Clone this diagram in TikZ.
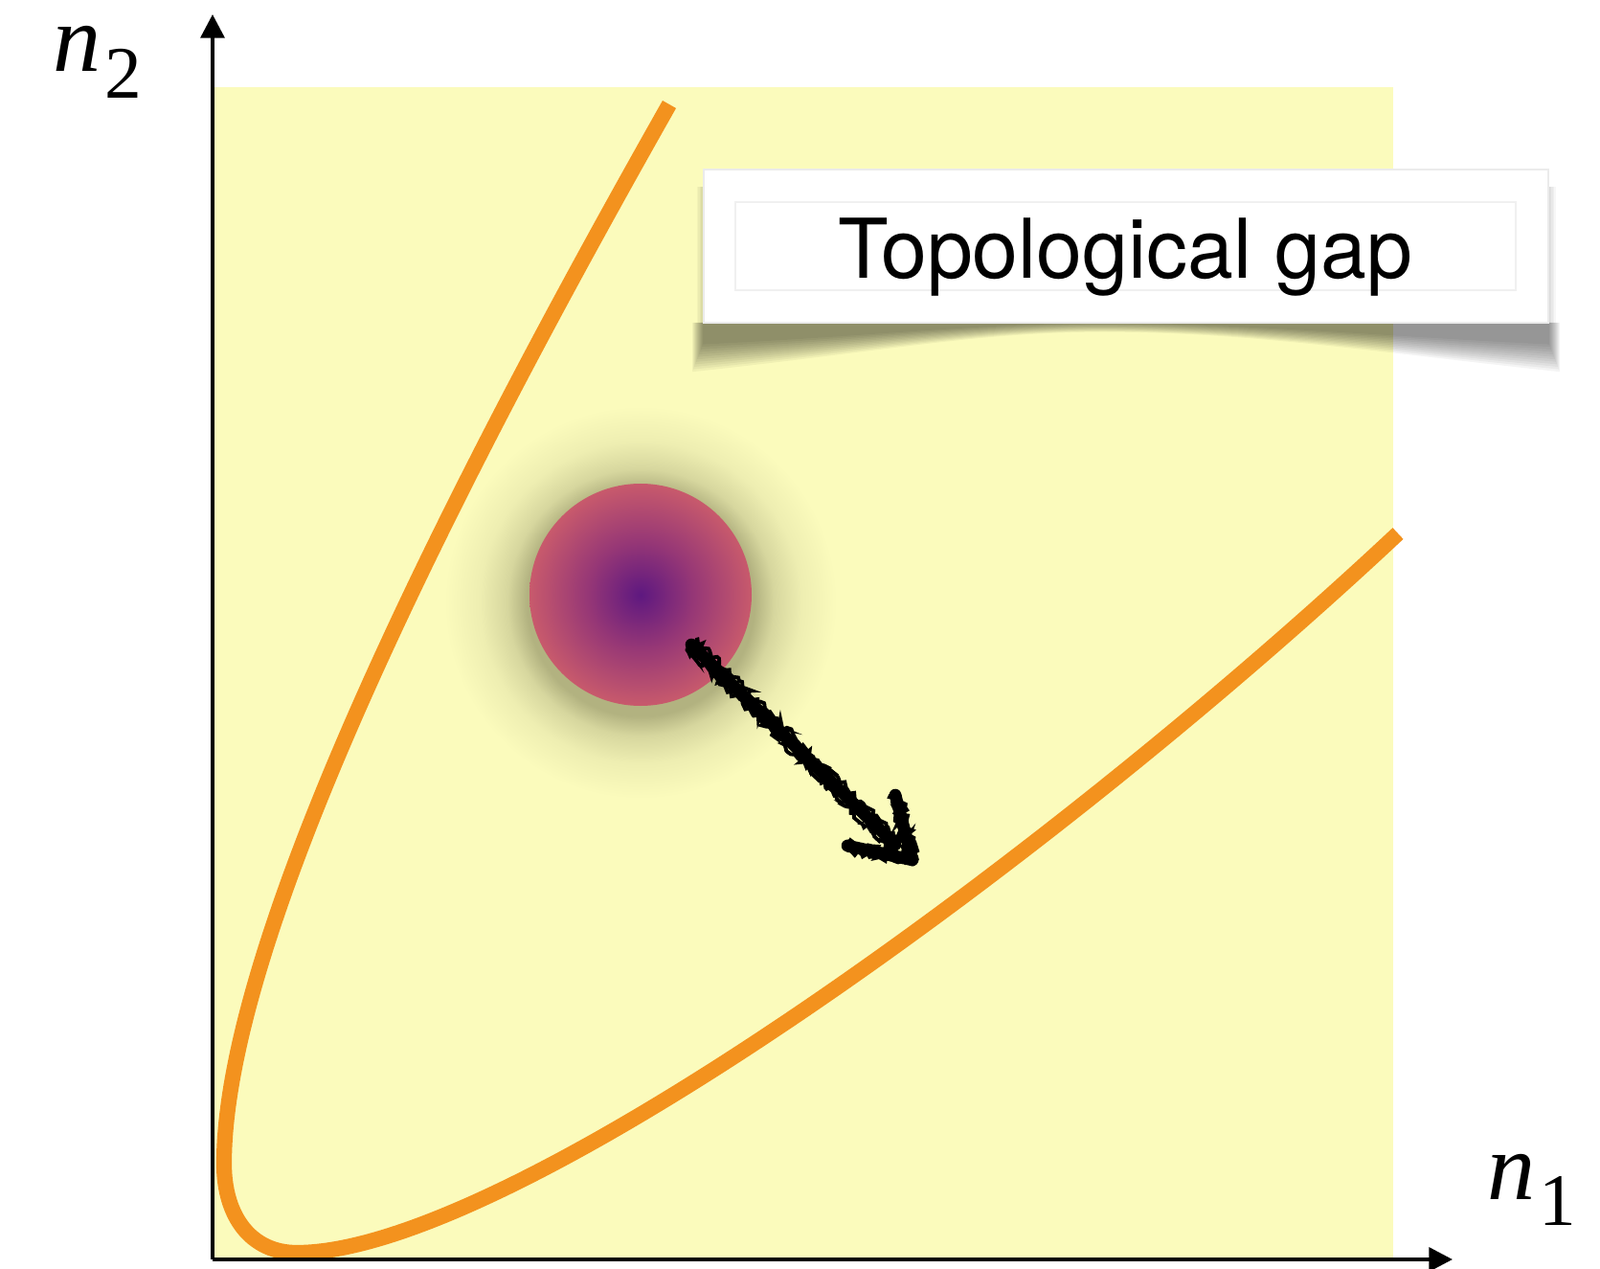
\documentclass[tikz,border=0pt]{standalone}
\usepackage{fontspec}
\setmainfont{Liberation Serif}
\newfontfamily\gapfont{TeX Gyre Heros}
\usetikzlibrary{arrows.meta,decorations.pathmorphing}
\definecolor{gapyellow}{RGB}{251,251,188}
\definecolor{bandorange}{RGB}{243,146,30}
\definecolor{ballin}{RGB}{94,24,128}
\definecolor{ballmid}{RGB}{150,55,118}
\definecolor{ballout}{RGB}{200,90,108}
\definecolor{glowdark}{RGB}{178,178,128}
\colorlet{glowhalf}{glowdark!50!gapyellow}
\colorlet{glowlow}{glowdark!18!gapyellow}
\pgfdeclareradialshading{ballshade}{\pgfpoint{0cm}{0cm}}{color(0bp)=(ballin); color(12bp)=(ballmid); color(25bp)=(ballout); color(50bp)=(ballout)}
\pgfdeclareradialshading{glowshade}{\pgfpoint{0cm}{0cm}}{color(0bp)=(glowdark); color(14.5bp)=(glowdark); color(17bp)=(glowhalf); color(20.5bp)=(glowlow); color(25bp)=(gapyellow); color(50bp)=(gapyellow)}
\begin{document}
\begin{tikzpicture}[
    axis/.style={line width=1.2pt,-{Triangle[length=7pt,width=7pt]}},
    band/.style={bandorange,line width=4.6pt},
    chalk/.style={line width=3.6pt,line cap=round,line join=round},
    chalkedge/.style={line width=1.1pt,line cap=round,decorate,
      decoration={random steps,segment length=0.8pt,amplitude=0.9pt}},
    axislabel/.style={inner sep=0pt,anchor=base west,font=\fontsize{28.5}{34}\selectfont}
  ]
  \useasboundingbox (-2.22,-0.09) rectangle (14.49,13.15);
  \fill[gapyellow] (0,0) rectangle (12.33,12.24);
  % gapped region
  \coordinate (ball) at (4.47,6.94);
  \shade[shading=glowshade] ([yshift=-0.08cm]ball) circle (2.05);
  \shade[shading=ballshade] (ball) circle (1.16);
  \draw[band] (4.77,12.06) .. controls (2.80,8.58) and (0.12,3.5) .. (0.12,1.0)
    .. controls (0.12,0.45) and (0.40,0.07) .. (0.88,0.07)
    .. controls (3.08,0.07) and (8.73,4.16) .. (12.38,7.58);
  % label box with curled shadow
  \foreach \k in {1,...,5}
    \fill[black,opacity=0.03] ({5.13-0.015*\k},9.78) rectangle ({13.95+0.015*\k},11.2);
  \foreach \k in {1,...,12}
    \fill[black,opacity=0.045] ({5.13-0.01*\k},9.78) -- ({5.13-0.01*\k},{9.78-0.2-0.026*\k})
      .. controls (7.0,{9.78-0.12-0.015*\k}) and (8.0,{9.78-0.008*\k}) .. (9.3,{9.78-0.008*\k})
      .. controls (10.8,{9.78-0.008*\k}) and (12.1,{9.78-0.12-0.015*\k}) .. ({13.95+0.01*\k},{9.78-0.2-0.026*\k})
      -- ({13.95+0.01*\k},9.78) -- cycle;
  \node[fill=white,draw=black!8,line width=0.4pt,minimum width=8.82cm,minimum height=1.6cm,
    inner sep=0pt] (gapbox) at (9.54,10.58) {};
  \draw[black!6,line width=0.5pt] (5.46,10.12) rectangle (13.61,11.04);
  \node[inner sep=0pt,anchor=base,font=\gapfont\fontsize{24.5}{29}\selectfont] (gaptext) at (9.53,10.24) {Topological gap};
  % drift of the state
  \coordinate (push) at (5.00,6.42);
  \coordinate (shaftend) at (7.13,4.33);
  \coordinate (tip) at (7.31,4.17);
  \coordinate (wingA) at (7.13,4.85);
  \coordinate (wingB) at (6.63,4.32);
  \draw[chalk] (push) -- (shaftend);
  \draw[chalk] (wingA) -- (tip) -- (wingB);
  \foreach \s in {-1.4pt,1.4pt} {
    \draw[chalkedge,transform canvas={shift={(\s,\s)}}] (push) -- (shaftend);
    \draw[chalkedge,transform canvas={shift={(\s,0)}}] (wingA) -- (tip);
    \draw[chalkedge,transform canvas={shift={(0,\s)}}] (tip) -- (wingB);
  }
  % axes
  \coordinate (origin) at (0,0);
  \coordinate (xend) at (12.95,0);
  \coordinate (yend) at (0,13.0);
  \draw[axis] (origin) -- (xend);
  \draw[axis] (origin) -- (yend);
  \node[axislabel] (ntwo) at (-1.67,12.40) {\textit{n}\kern1pt\raisebox{-7.7pt}{\fontsize{22}{26}\selectfont 2}};
  \node[axislabel] (none) at (13.31,0.63) {\textit{n}\kern1pt\raisebox{-7.7pt}{\fontsize{22}{26}\selectfont 1}};
\end{tikzpicture}
\end{document}
